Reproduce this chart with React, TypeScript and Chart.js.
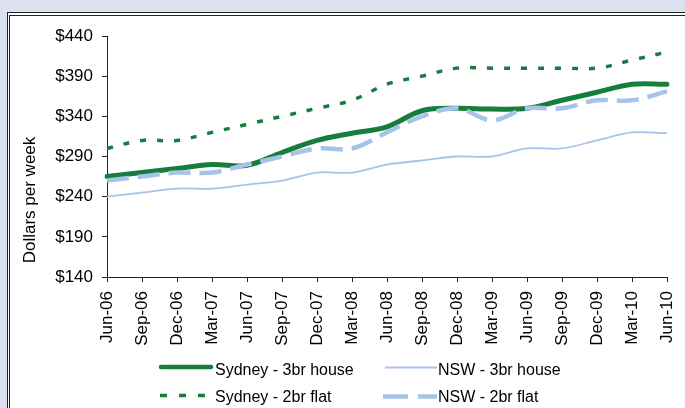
import React, { useEffect, useRef } from 'react';
import { Chart, registerables } from 'chart.js';

Chart.register(...registerables);

const quarters = ['Jun-06', 'Sep-06', 'Dec-06', 'Mar-07', 'Jun-07', 'Sep-07', 'Dec-07', 'Mar-08', 'Jun-08',
  'Sep-08', 'Dec-08', 'Mar-09', 'Jun-09', 'Sep-09', 'Dec-09', 'Mar-10', 'Jun-10'];
const sydneyHouse = [265, 270, 275, 280, 279, 295, 310, 319, 327, 347, 350, 349, 350, 360, 370, 380, 380];
const nswHouse = [240, 245, 250, 250, 255, 260, 270, 270, 280, 285, 290, 290, 300, 300, 310, 320, 319];
const sydneyFlat = [300, 310, 310, 320, 330, 340, 350, 360, 380, 390, 400, 400, 400, 400, 400, 410, 420];
const nswFlat = [260, 265, 270, 270, 280, 290, 300, 300, 320, 340, 350, 335, 350, 350, 360, 360, 371];
const yTicks = [140, 190, 240, 290, 340, 390, 440];
const seriesNames = ['Sydney - 3br house', 'NSW - 3br house', 'Sydney - 2br flat', 'NSW - 2br flat'];
const yTitle = 'Dollars per week';

const GREEN = '#177d3c';
const BLUE = '#a6c4e8';
const FONT = 'Arial, "Liberation Sans", sans-serif';

// legend in a 2x2 grid plus the y title, drawn by hand
const extrasPlugin = {
  id: 'extras',
  afterDraw(chart: any) {
    const ctx = chart.ctx;
    ctx.save();
    // y title
    ctx.translate(30, 200);
    ctx.rotate(-Math.PI / 2);
    ctx.font = `17px ${FONT}`;
    ctx.fillStyle = '#000';
    ctx.textAlign = 'center';
    ctx.textBaseline = 'middle';
    ctx.fillText(yTitle, 0, 0);
    ctx.restore();

    const samples = [
      { x0: 161, x1: 211, y: 367, w: 4.5, dash: [], cap: 'round' },
      { x0: 385, x1: 437, y: 367.5, w: 2, dash: [], cap: 'butt' },
      { x0: 160, x1: 206, y: 395.5, w: 3.5, dash: [7, 12], cap: 'butt' },
      { x0: 383, x1: 437, y: 396.5, w: 4.5, dash: [25, 10], cap: 'butt' },
    ];
    chart.data.datasets.forEach((ds: any, i: number) => {
      const s = samples[i];
      ctx.save();
      ctx.strokeStyle = ds.borderColor;
      ctx.lineWidth = s.w;
      ctx.lineCap = s.cap;
      ctx.setLineDash(s.dash);
      ctx.beginPath();
      ctx.moveTo(s.x0, s.y);
      ctx.lineTo(s.x1, s.y);
      ctx.stroke();
      ctx.restore();
      ctx.save();
      ctx.font = `16px ${FONT}`;
      ctx.fillStyle = '#000';
      ctx.textBaseline = 'alphabetic';
      ctx.fillText(ds.label, i % 2 === 0 ? 215 : 438, i < 2 ? 374.5 : 402);
      ctx.restore();
    });
  },
};

const App: React.FC = () => {
  const canvasRef = useRef<HTMLCanvasElement | null>(null);

  useEffect(() => {
    if (!canvasRef.current) return;
    const ctx = canvasRef.current.getContext('2d');
    if (!ctx) return;

    const myChart = new Chart(ctx, {
      type: 'line',
      data: {
        labels: quarters,
        datasets: [
          {
            label: seriesNames[0], data: sydneyHouse, borderColor: GREEN, borderWidth: 5,
            borderCapStyle: 'round', order: 4,
          },
          {
            label: seriesNames[1], data: nswHouse, borderColor: BLUE, borderWidth: 1.8, order: 3,
          },
          {
            label: seriesNames[2], data: sydneyFlat, borderColor: GREEN, borderWidth: 3.5,
            borderDash: [6, 11], order: 2,
          },
          {
            label: seriesNames[3], data: nswFlat, borderColor: BLUE, borderWidth: 4.5,
            borderDash: [22, 9], order: 1,
          },
        ],
      },
      options: {
        responsive: false,
        animation: false,
        layout: { padding: { left: 0, top: 36, right: 18, bottom: 0 } },
        elements: {
          point: { radius: 0 },
          line: { tension: 0.35, fill: false },
        },
        plugins: {
          legend: { display: false },
          tooltip: { enabled: false },
        },
        scales: {
          x: {
            offset: false,
            grid: { drawOnChartArea: false, drawTicks: true, tickLength: 5, color: '#222' },
            border: { color: '#222', width: 1 },
            ticks: {
              autoSkip: false, minRotation: 90, maxRotation: 90, padding: 9,
              color: '#000', font: { family: FONT, size: 17 },
            },
            afterFit: (scale: any) => {
              scale.height = 131;
              scale.paddingLeft = 0;
              scale.paddingRight = 0;
            },
          },
          y: {
            min: 140,
            max: 440,
            grid: { drawOnChartArea: false, drawTicks: true, tickLength: 5, color: '#222' },
            border: { color: '#222', width: 1 },
            ticks: {
              padding: 9, color: '#000', font: { family: FONT, size: 17 },
              callback: (v: any) => '$' + v,
            },
            afterBuildTicks: (scale: any) => { scale.ticks = yTicks.map(v => ({ value: v })); },
            afterFit: (scale: any) => { scale.width = 107; },
          },
        },
      },
      plugins: [extrasPlugin],
    });

    return () => {
      myChart.destroy();
    };
  }, []);

  return (
    <div style={{ position: 'fixed', left: 0, top: 0, width: 685, height: 408, background: '#dbe1ee', overflow: 'hidden' }}>
      <div style={{
        position: 'absolute', left: 7, top: 12, width: 720, height: 430, background: '#fff',
        borderTop: '4px double #222', borderLeft: '3px double #222',
      }} />
      <canvas ref={canvasRef} width={685} height={408}
        style={{ position: 'absolute', left: 0, top: 0, width: 685, height: 408 }} />
    </div>
  );
};

export default App;
